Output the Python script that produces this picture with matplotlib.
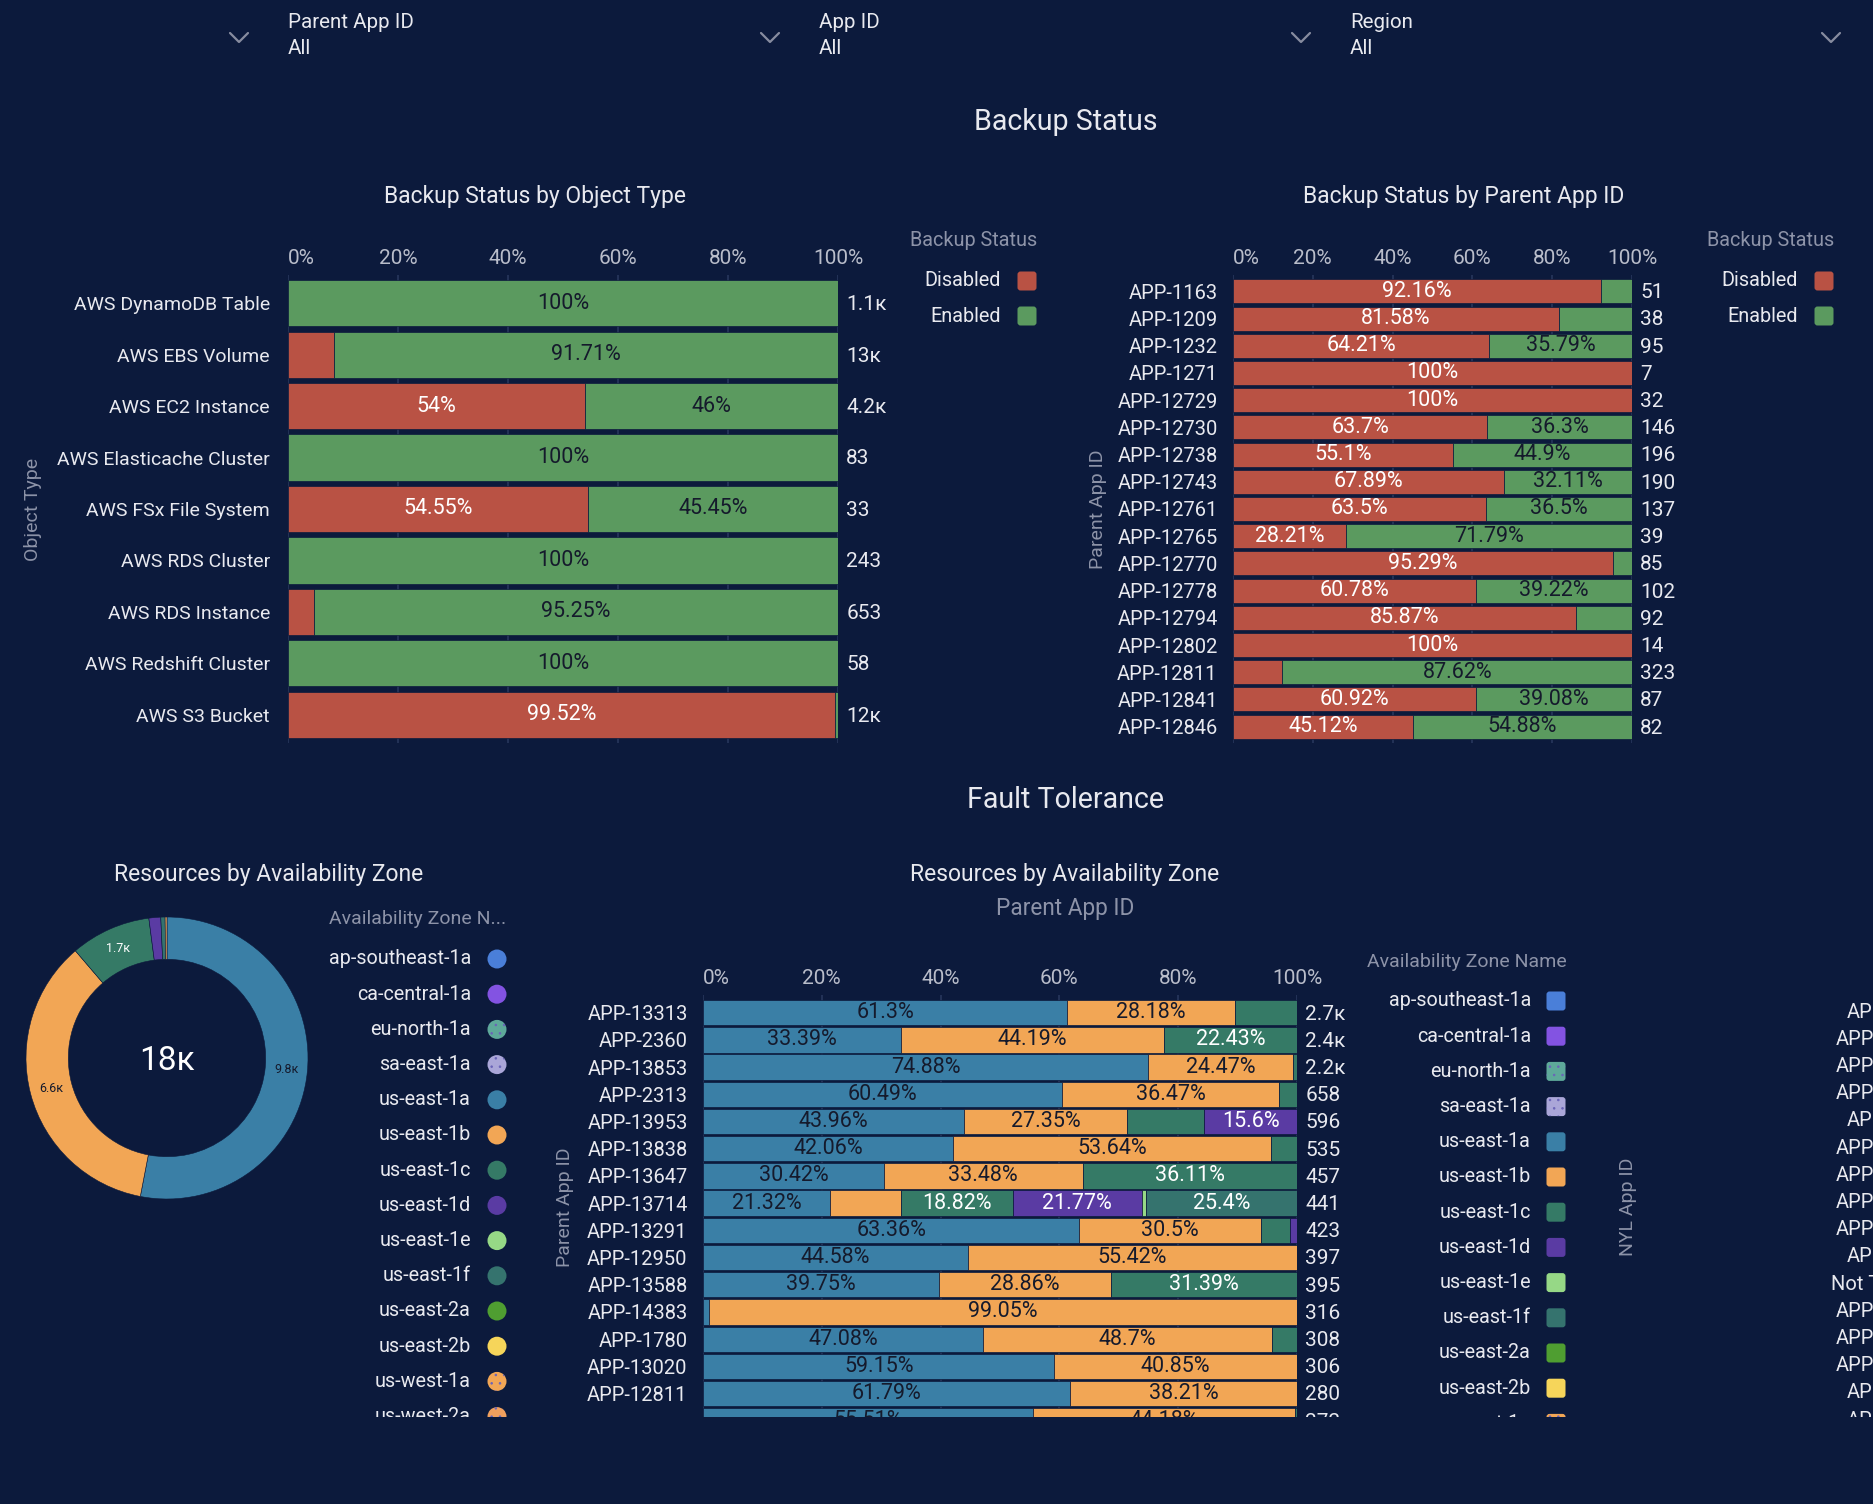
import matplotlib
matplotlib.use("Agg")
import matplotlib.pyplot as plt
from matplotlib.patches import Rectangle, Circle, FancyBboxPatch
import numpy as np

plt.rcParams['font.family'] = ['Roboto', 'DejaVu Sans']
plt.rcParams['hatch.linewidth'] = 0.6

W, H = 1874, 1504
BG = '#0c1a3c'
GRID = '#27365c'
TXT = '#e8e9ef'
TICK = '#b9bdca'
MUTED = '#8d93a8'
DARK = '#151a2c'
RED = '#b95244'
GREEN = '#5b9a5f'

# ---- data: backup status by object type ----
object_types = ['AWS DynamoDB Table', 'AWS EBS Volume', 'AWS EC2 Instance',
                'AWS Elasticache Cluster', 'AWS FSx File System', 'AWS RDS Cluster',
                'AWS RDS Instance', 'AWS Redshift Cluster', 'AWS S3 Bucket']
obj_disabled = [0, 8.29, 54, 0, 54.55, 0, 4.75, 0, 99.52]
obj_enabled = [100, 91.71, 46, 100, 45.45, 100, 95.25, 100, 0.48]
obj_totals = [1100, 13000, 4200, 83, 33, 243, 653, 58, 12000]

# ---- data: backup status by parent app id ----
parent_apps = ['APP-1163', 'APP-1209', 'APP-1232', 'APP-1271', 'APP-12729', 'APP-12730',
               'APP-12738', 'APP-12743', 'APP-12761', 'APP-12765', 'APP-12770', 'APP-12778',
               'APP-12794', 'APP-12802', 'APP-12811', 'APP-12841', 'APP-12846']
app_disabled = [92.16, 81.58, 64.21, 100, 100, 63.7, 55.1, 67.89, 63.5, 28.21, 95.29,
                60.78, 85.87, 100, 12.38, 60.92, 45.12]
app_enabled = [7.84, 18.42, 35.79, 0, 0, 36.3, 44.9, 32.11, 36.5, 71.79, 4.71,
               39.22, 14.13, 0, 87.62, 39.08, 54.88]
app_totals = [51, 38, 95, 7, 32, 146, 196, 190, 137, 39, 85, 102, 92, 14, 323, 87, 82]

# ---- data: availability zones ----
zone_names = ['ap-southeast-1a', 'ca-central-1a', 'eu-north-1a', 'sa-east-1a', 'us-east-1a',
              'us-east-1b', 'us-east-1c', 'us-east-1d', 'us-east-1e', 'us-east-1f',
              'us-east-2a', 'us-east-2b', 'us-west-1a', 'us-west-2a']
zone_colors = ['#4a7fd9', '#8353e2', '#5ea99a', '#aaa6d8', '#3a7fa6',
               '#f2a655', '#357a66', '#5a3ba3', '#96d886', '#35736e',
               '#4f9e31', '#f6d55a', '#f2a655', '#f0a05e']
zone_dotted = ['eu-north-1a', 'sa-east-1a', 'us-west-1a', 'us-west-2a']
zone_light_text = ['us-east-1c', 'us-east-1d', 'us-east-1f', 'ca-central-1a']

donut_zones = ['us-east-1a', 'us-east-1b', 'us-east-1c', 'us-east-1d', 'us-east-1f', 'us-west-1a']
donut_counts = [9800, 6600, 1700, 250, 90, 40]

# ---- data: resources by AZ per parent app ----
az_apps = ['APP-13313', 'APP-2360', 'APP-13853', 'APP-2313', 'APP-13953', 'APP-13838',
           'APP-13647', 'APP-13714', 'APP-13291', 'APP-12950', 'APP-13588', 'APP-14383',
           'APP-1780', 'APP-13020', 'APP-12811', 'APP-13031']
az_1a = [61.3, 33.39, 74.88, 60.49, 43.96, 42.06, 30.42, 21.32, 63.36, 44.58, 39.75, 0.95,
         47.08, 59.15, 61.79, 55.51]
az_1b = [28.18, 44.19, 24.47, 36.47, 27.35, 53.64, 33.48, 11.99, 30.5, 55.42, 28.86, 99.05,
         48.7, 40.85, 38.21, 44.18]
az_1c = [10.52, 22.43, 0.65, 3.04, 13.09, 4.3, 36.11, 18.82, 5.0, 0, 31.39, 0,
         4.22, 0, 0, 0.31]
az_1d = [0, 0, 0, 0, 15.6, 0, 0, 21.77, 1.14, 0, 0, 0, 0, 0, 0, 0]
az_1e = [0, 0, 0, 0, 0, 0, 0, 0.7, 0, 0, 0, 0, 0, 0, 0, 0]
az_1f = [0, 0, 0, 0, 0, 0, 0, 25.4, 0, 0, 0, 0, 0, 0, 0, 0]
az_totals = [2700, 2400, 2200, 658, 596, 535, 457, 441, 423, 397, 395, 316, 308, 306, 280, 272]

nyl_apps = ['APP-1342', 'APP-13313', 'APP-12950', 'APP-13853', 'APP-2360', 'APP-13647',
            'APP-13714', 'APP-13291', 'APP-13588', 'APP-1780', 'Not Tagged', 'APP-13020',
            'APP-12811', 'APP-14383', 'APP-2313', 'APP-1163']

filters = ['Parent App ID', 'App ID', 'Region']

zc = dict(zip(zone_names, zone_colors))


def fmt_k(v):
    if v >= 1000:
        return f"{v / 1000:.2g}к"
    return str(v)


def ax_px(x0, y0, x1, y1):
    return fig.add_axes([x0 / W, 1 - y1 / H, (x1 - x0) / W, (y1 - y0) / H])


def stacked_chart(ax, cats, segs, colors, txtcols, totals, width_px, bar_h,
                  cat_fs, cat_pad, min_px=85):
    n = len(cats)
    y = np.arange(n)
    left = np.zeros(n)
    for vals, col, tc in zip(segs, colors, txtcols):
        vals = np.array(vals, dtype=float)
        ax.barh(y, vals, left=left, height=bar_h, color=col, edgecolor=BG, linewidth=0.5,
                zorder=2)
        for i in range(n):
            if vals[i] * width_px / 100 >= min_px:
                ax.text(left[i] + vals[i] / 2, i, f"{vals[i]:g}%", ha='center', va='center',
                        color=tc, fontsize=15.5, zorder=3)
        left += vals
    for i in range(n):
        ax.annotate(fmt_k(totals[i]), xy=(1, i), xycoords=('axes fraction', 'data'),
                    xytext=(6, -1), textcoords='offset points', ha='left', va='center',
                    color=TXT, fontsize=15)
    ax.set_xlim(0, 100)
    ax.set_yticks(y)
    ax.set_yticklabels(cats)
    ax.xaxis.tick_top()
    ax.set_xticks(range(0, 101, 20))
    ax.set_xticklabels([f"{t}%" for t in range(0, 101, 20)])
    ax.get_xticklabels()[0].set_ha('left')
    ax.tick_params(axis='x', length=0, pad=5, labelcolor=TICK, labelsize=15)
    ax.tick_params(axis='y', length=0, pad=cat_pad, labelcolor=TXT, labelsize=cat_fs)
    ax.grid(axis='x', color=GRID, linewidth=1.2, zorder=0)
    ax.set_axisbelow(True)
    for s in ax.spines.values():
        s.set_visible(False)
    ax.set_facecolor('none')


def legend_swatch(x, y, color, shape, dotted=False):
    if shape == 'circle':
        p = Circle((x, y), 9.5, facecolor=color, edgecolor='none')
    else:
        p = FancyBboxPatch((x - 6.5, y - 6.5), 13, 13, boxstyle="round,pad=3",
                           facecolor=color, edgecolor='none')
    ov.add_patch(p)
    if dotted:
        if shape == 'circle':
            h = Circle((x, y), 9.5, facecolor='none', edgecolor='#6a64b8', hatch='..', lw=0)
        else:
            h = FancyBboxPatch((x - 6.5, y - 6.5), 13, 13, boxstyle="round,pad=3",
                               facecolor='none', edgecolor='#6a64b8', hatch='..', lw=0)
        ov.add_patch(h)


fig = plt.figure(figsize=(W / 100, H / 100), dpi=100, facecolor=BG)

ov = fig.add_axes([0, 0, 1, 1])
ov.set_xlim(0, W)
ov.set_ylim(H, 0)
ov.axis('off')
ov.set_facecolor('none')

# ---- filter bar ----
for k, name in enumerate(filters):
    x = 288 + 531 * k
    ov.text(x, 23, name, ha='left', va='center', color=TXT, fontsize=14.8)
    ov.text(x, 49, 'All', ha='left', va='center', color=TXT, fontsize=14.8)
for cx in [239, 770, 1301, 1831]:
    ov.plot([cx - 9, cx, cx + 9], [33, 42, 33], color='#878c9f', lw=1.6,
            solid_capstyle='round')

# ---- section titles ----
ov.text(1066, 122, 'Backup Status', ha='center', va='center', color=TXT, fontsize=20.6)
ov.text(1066, 800, 'Fault Tolerance', ha='center', va='center', color=TXT, fontsize=20.6)
ov.text(535, 197, 'Backup Status by Object Type', ha='center', va='center', color=TXT,
        fontsize=16.5)
ov.text(1464, 197, 'Backup Status by Parent App ID', ha='center', va='center', color=TXT,
        fontsize=16.5)
ov.text(269, 875, 'Resources by Availability Zone', ha='center', va='center', color=TXT,
        fontsize=16.5)
ov.text(1065, 875, 'Resources by Availability Zone', ha='center', va='center', color=TXT,
        fontsize=16.5)
ov.text(1065, 908, 'Parent App ID', ha='center', va='center', color=MUTED, fontsize=16.3)

# ---- axis titles ----
ov.text(33, 509, 'Object Type', rotation=90, ha='center', va='center', color=MUTED, fontsize=14)
ov.text(1098, 509, 'Parent App ID', rotation=90, ha='center', va='center', color=MUTED,
        fontsize=14)
ov.text(565, 1207, 'Parent App ID', rotation=90, ha='center', va='center', color=MUTED,
        fontsize=14)
ov.text(1628, 1207, 'NYL App ID', rotation=90, ha='center', va='center', color=MUTED,
        fontsize=14)

# ---- backup legends ----
for lx_txt, lx_sw, lx_title in [(1001, 1027, 1037), (1798, 1824, 1834)]:
    ov.text(lx_title, 241, 'Backup Status', ha='right', va='center', color=MUTED, fontsize=14.3)
    for k, (lab, col) in enumerate([('Disabled', RED), ('Enabled', GREEN)]):
        yy = 281 + 35 * k
        ov.text(lx_txt, yy, lab, ha='right', va='center', color=TXT, fontsize=14.3)
        legend_swatch(lx_sw, yy, col, 'square')

# ---- backup status by object type ----
ax1 = ax_px(288, 275, 838, 743)
stacked_chart(ax1, object_types, [obj_disabled, obj_enabled], [RED, GREEN], ['white', DARK],
              obj_totals, 550, 0.9, 14, 13)
ax1.set_ylim(len(object_types) - 1 + 0.55, -0.55)

# ---- backup status by parent app ----
ax2 = ax_px(1233, 275, 1632, 743)
stacked_chart(ax2, parent_apps, [app_disabled, app_enabled], [RED, GREEN], ['white', DARK],
              app_totals, 399, 0.88, 14.5, 11)
ax2.set_ylim(len(parent_apps) - 1 + 0.6, -0.6)

# ---- donut ----
axd = ax_px(20, 911, 314, 1205)
R = 141 / 147
dcols = [zc[z] for z in donut_zones]
wedges, _ = axd.pie(donut_counts, colors=dcols, startangle=90, counterclock=False, radius=R,
                    wedgeprops=dict(width=R * 0.3, edgecolor=BG, linewidth=0.4))
rm = R * 0.85
for w, v, z in zip(wedges, donut_counts, donut_zones):
    if v >= 1000:
        th = np.deg2rad((w.theta1 + w.theta2) / 2)
        axd.text(rm * np.cos(th), rm * np.sin(th), fmt_k(v), ha='center', va='center',
                 fontsize=9, color='white' if z in zone_light_text else DARK)
axd.text(0, -0.02, fmt_k(sum(donut_counts)), ha='center', va='center', fontsize=24,
         color='white')
axd.set_xlim(-1, 1)
axd.set_ylim(-1, 1)
axd.set_aspect('equal')
axd.axis('off')

ov.text(506, 919, 'Availability Zone N...', ha='right', va='center', color=MUTED, fontsize=14)
for k, z in enumerate(zone_names):
    yy = 959 + 35.2 * k
    ov.text(471, yy, z, ha='right', va='center', color=TXT, fontsize=14.2)
    legend_swatch(497, yy, zc[z], 'circle', z in zone_dotted)

# ---- resources by AZ per parent app ----
ax3 = ax_px(703, 995, 1297, 1417)
seg_zones = ['us-east-1a', 'us-east-1b', 'us-east-1c', 'us-east-1d', 'us-east-1e', 'us-east-1f']
stacked_chart(ax3, az_apps, [az_1a, az_1b, az_1c, az_1d, az_1e, az_1f],
              [zc[z] for z in seg_zones],
              ['white' if z in zone_light_text else DARK for z in seg_zones],
              az_totals, 594, 0.93, 14.5, 11)
ax3.set_ylim(-0.65 + 15.51, -0.65)

ov.text(1567, 962, 'Availability Zone Name', ha='right', va='center', color=MUTED,
        fontsize=14)
for k, z in enumerate(zone_names):
    yy = 1001 + 35.2 * k
    ov.text(1531, yy, z, ha='right', va='center', color=TXT, fontsize=14.2)
    legend_swatch(1556, yy, zc[z], 'square', z in zone_dotted)

# third chart, cut off at the right edge
for k, name in enumerate(nyl_apps):
    ov.text(1936, 1012 + 27.2 * k, name, ha='right', va='center', color=TXT, fontsize=14.5)

# page cut-off at the bottom
fig.add_artist(Rectangle((0, 0), 1, (H - 1417) / H, transform=fig.transFigure,
                         facecolor=BG, edgecolor='none', zorder=10))

fig.savefig('out.png', dpi=100, facecolor=BG)
